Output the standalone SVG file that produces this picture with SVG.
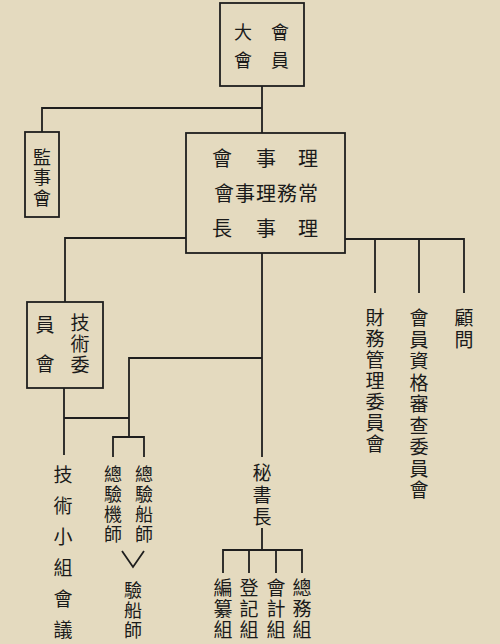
<svg xmlns="http://www.w3.org/2000/svg" width="500" height="644" viewBox="0 0 500 644">
<style>
.bg{fill:#e4dabf}
.box{fill:none;stroke:#1e1e1e;stroke-width:1.8}
.ln{fill:none;stroke:#1e1e1e;stroke-width:1.8}
text{font-family:"Noto Sans CJK TC","Noto Sans CJK SC",sans-serif;fill:#1a1a1a;text-anchor:middle;dominant-baseline:central}
.v{writing-mode:vertical-rl;text-anchor:start}
.f18{font-size:18px}
.f19{font-size:19px}
.f20{font-size:20px}
</style>
<rect class="bg" x="0" y="0" width="500" height="644"/>
<g id="connectors">
<path class="ln" d="M262 86V133"/>
<path class="ln" d="M42 132V108H262"/>
<path class="ln" d="M186 238H65V302"/>
<path class="ln" d="M345 239H464V293M375 239V293M419 239V293"/>
<path class="ln" d="M262 253V457"/>
<path class="ln" d="M262 358H129V437M113 457V437H144V457"/>
<path class="ln" d="M64 388V455M64 418H129"/>
<path class="ln" d="M122 551L133 567L144 551"/>
<path class="ln" d="M262 528V550M223 573V550H302V573M249 550V573M276 550V573"/>
</g>
<g id="general-assembly">
<rect class="box" x="220" y="3" width="84" height="83"/>
<text class="v f18" x="280" y="23" letter-spacing="10">會<tspan letter-spacing="0">員</tspan></text>
<text class="v f18" x="243" y="23" letter-spacing="10">大<tspan letter-spacing="0">會</tspan></text>
</g>
<g id="supervisors">
<rect class="box" x="25" y="132" width="34" height="85"/>
<text class="v f18" x="42" y="148" letter-spacing="2.5">監事<tspan letter-spacing="0">會</tspan></text>
</g>
<g id="board">
<rect class="box" x="186" y="133" width="159" height="120"/>
<text class="f20"><tspan x="222" y="157">會</tspan><tspan x="266" y="157">事</tspan><tspan x="308" y="157">理</tspan></text>
<text class="f20" x="266" y="192" textLength="104" lengthAdjust="spacing">會事理務常</text>
<text class="f20"><tspan x="222" y="227">長</tspan><tspan x="266" y="227">事</tspan><tspan x="308" y="227">理</tspan></text>
</g>
<g id="finance">
<text class="v f19" x="375" y="308.5" letter-spacing="2">財務管理委員<tspan letter-spacing="0">會</tspan></text>
</g>
<g id="membership">
<text class="v f19" x="419" y="308.5" letter-spacing="2.5">會員資格審查委員<tspan letter-spacing="0">會</tspan></text>
</g>
<g id="advisors">
<text class="v f19" x="464" y="308.5" letter-spacing="3">顧<tspan letter-spacing="0">問</tspan></text>
</g>
<g id="tech-committee">
<rect class="box" x="27" y="302" width="76" height="86"/>
<text class="v f19" x="80" y="313.5" letter-spacing="2">技術<tspan letter-spacing="0">委</tspan></text>
<text class="v f19" x="45" y="315.5" letter-spacing="20">員<tspan letter-spacing="0">會</tspan></text>
</g>
<g id="tech-group">
<text class="v f19" x="63" y="465.5" letter-spacing="12">技術小組會<tspan letter-spacing="0">議</tspan></text>
</g>
<g id="chief-engine">
<text class="v f18" x="113" y="465" letter-spacing="2">總驗機<tspan letter-spacing="0">師</tspan></text>
</g>
<g id="chief-ship">
<text class="v f18" x="144" y="465" letter-spacing="2">總驗船<tspan letter-spacing="0">師</tspan></text>
</g>
<g id="surveyor">
<text class="v f18" x="133" y="581" letter-spacing="2">驗船<tspan letter-spacing="0">師</tspan></text>
</g>
<g id="secretary">
<text class="v f19" x="262" y="463.5" letter-spacing="3">秘書<tspan letter-spacing="0">長</tspan></text>
</g>
<g id="editing">
<text class="v f19" x="223" y="578.5" letter-spacing="2">編纂<tspan letter-spacing="0">組</tspan></text>
</g>
<g id="registry">
<text class="v f19" x="249" y="578.5" letter-spacing="2">登記<tspan letter-spacing="0">組</tspan></text>
</g>
<g id="accounting">
<text class="v f19" x="276" y="578.5" letter-spacing="2">會計<tspan letter-spacing="0">組</tspan></text>
</g>
<g id="general-affairs">
<text class="v f19" x="302" y="578.5" letter-spacing="2">總務<tspan letter-spacing="0">組</tspan></text>
</g>
</svg>
